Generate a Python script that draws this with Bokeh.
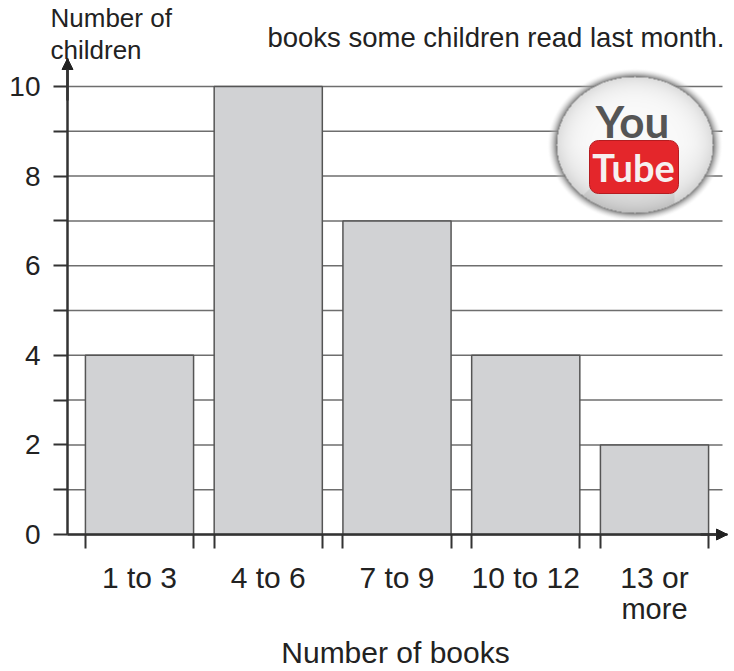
import numpy as np
from bokeh.embed import file_html
from bokeh.models import Arrow, FixedTicker, Label, NormalHead, Range1d
from bokeh.plotting import figure
from bokeh.resources import INLINE

categories = ["1 to 3", "4 to 6", "7 to 9", "10 to 12", "13 or"]
last_category_line2 = "more"
children = [4, 10, 7, 4, 2]
y_major = [0, 2, 4, 6, 8, 10]
y_minor = [1, 3, 5, 7, 9]
x_title = "Number of books"
caption = "books some children read last month."

FONT = "Liberation Sans"
BAR_W = 0.84
X0, XU, Y0, YU = 139.0, 128.75, 534.0, 44.8   # page pixels of category 0 / value 0, and per unit
W, H = 734, 671
AXIS_LEFT, AXIS_RIGHT, AXIS_TOP, GRID_RIGHT = 67, 727, 58, 722


def px(v):
    return (v - X0) / XU


def py(v):
    return (Y0 - v) / YU


positions = list(range(len(categories)))
edges = [c + s * BAR_W / 2 for c in positions for s in (-1, 1)]
grid_values = sorted(y_major + y_minor)

p = figure(width=W, height=H, output_backend="svg", toolbar_location=None,
           x_range=Range1d(px(0), px(W)), y_range=Range1d(py(H), py(0)),
           min_border=0)
p.outline_line_color = None
p.background_fill_color = "white"
p.grid.visible = False

p.segment(x0=[px(AXIS_LEFT)] * len(grid_values), x1=[px(GRID_RIGHT)] * len(grid_values),
          y0=grid_values, y1=grid_values, line_color="#6e6e6e", line_width=1.5)
p.vbar(x=positions, top=children, bottom=0, width=BAR_W, fill_color="#d1d2d4",
       line_color="#555555", line_width=1.5)

ax = p.xaxis[0]
ax.fixed_location = 0
ax.bounds = (px(AXIS_LEFT), px(AXIS_RIGHT))
ax.ticker = FixedTicker(ticks=positions, minor_ticks=edges)
ax.major_label_overrides = {i: c for i, c in enumerate(categories)}
ax.major_tick_out = 0
ax.major_tick_in = 0
ax.minor_tick_out = 14
ax.minor_tick_in = 0
ax.minor_tick_line_color = "#333333"
ax.minor_tick_line_width = 2
ax.axis_line_color = "#333333"
ax.axis_line_width = 2.5
ax.major_label_text_font = FONT
ax.major_label_text_font_size = "30px"
ax.major_label_text_color = "#222222"
ax.major_label_standoff = 12
ax.axis_label = None

ay = p.yaxis[0]
ay.fixed_location = px(AXIS_LEFT)
ay.bounds = (0, py(AXIS_TOP))
ay.ticker = FixedTicker(ticks=y_major, minor_ticks=y_minor)
ay.major_tick_out = 14
ay.major_tick_in = 0
ay.minor_tick_out = 14
ay.minor_tick_in = 0
ay.major_tick_line_color = "#333333"
ay.minor_tick_line_color = "#333333"
ay.major_tick_line_width = 2
ay.minor_tick_line_width = 2
ay.axis_line_color = "#333333"
ay.axis_line_width = 2.5
ay.major_label_text_font = FONT
ay.major_label_text_font_size = "28px"
ay.major_label_text_color = "#222222"
ay.major_label_standoff = 13
ay.major_label_orientation = "horizontal"

head = dict(size=11, fill_color="#222222", line_color="#222222")
p.add_layout(Arrow(end=NormalHead(**head), x_start=px(AXIS_LEFT), y_start=py(100), x_end=px(AXIS_LEFT),
                   y_end=py(AXIS_TOP), line_color="#333333", line_width=2.5))
p.add_layout(Arrow(end=NormalHead(**head), x_start=px(700), y_start=0, x_end=px(AXIS_RIGHT), y_end=0,
                   line_color="#333333", line_width=2.5))

# glossy disc behind the logo
lx0, lx1, ly0, ly1 = 546, 722, 66, 224
xx, yy = np.meshgrid(np.arange(lx0, lx1) + 0.5, np.arange(ly0, ly1) + 0.5)
cx, cy, rx, ry = 634.5, 144.5, 78.0, 68.0
r = np.sqrt(((xx - cx) / rx) ** 2 + ((yy - cy) / ry) ** 2)
shade = 250 - 30 * r ** 6 - 14 * np.clip((yy - cy) / ry, 0, 1)
wedge = (yy - cy) > 0.55 * (cx - xx) + 12 + 0.0035 * (xx - cx) ** 2
shade = np.where(wedge & (xx < cx + 40), shade - 16, shade)
alpha = np.where(r <= 1, 255, 0).astype(float)
outer = (r > 1) & (r < 1.12)
dark = 120 + (r - 1) / 0.12 * 100
shade = np.where(outer, dark, shade)
alpha = np.where(outer, 255 * (1 - (r - 1) / 0.12), alpha)
rgba = np.zeros(xx.shape, dtype=np.uint32)
view = rgba.view(np.uint8).reshape(xx.shape + (4,))
view[..., 0] = view[..., 1] = view[..., 2] = np.clip(shade, 0, 255).astype(np.uint8)
view[..., 3] = alpha.astype(np.uint8)
p.image_rgba(image=[rgba[::-1]], x=px(lx0), y=py(ly1), dw=(lx1 - lx0) / XU, dh=(ly1 - ly0) / YU)

p.quad(left=px(589), right=px(678), top=py(140), bottom=py(193), fill_color="#e4262b",
       line_color="#b51c20", border_radius=9)


def text(x, y, s, size, align="left", color="#222222", font=FONT, style="normal"):
    # y is the wanted baseline; the label's alphabetic anchor draws about 0.4 em lower
    p.add_layout(Label(x=px(x), y=py(y - 0.4 * size), text=s, text_font=font, text_font_size=f"{size}px",
                       text_align=align, text_baseline="alphabetic", text_color=color, text_font_style=style))


text(632, 138, "You", 44, "center", "#555555", "Lato", "bold")
text(633, 182, "Tube", 38, "center", "#f6f0f0", "Lato", "bold")
text(724, 48, caption, 27.5, "right")
text(50, 28, "Number of", 26)
text(50, 60, "children", 26)
text(654, 620, last_category_line2, 29, "center")
text(395, 664, x_title, 30, "center")

open("out.html", "w").write(file_html(p, INLINE))
